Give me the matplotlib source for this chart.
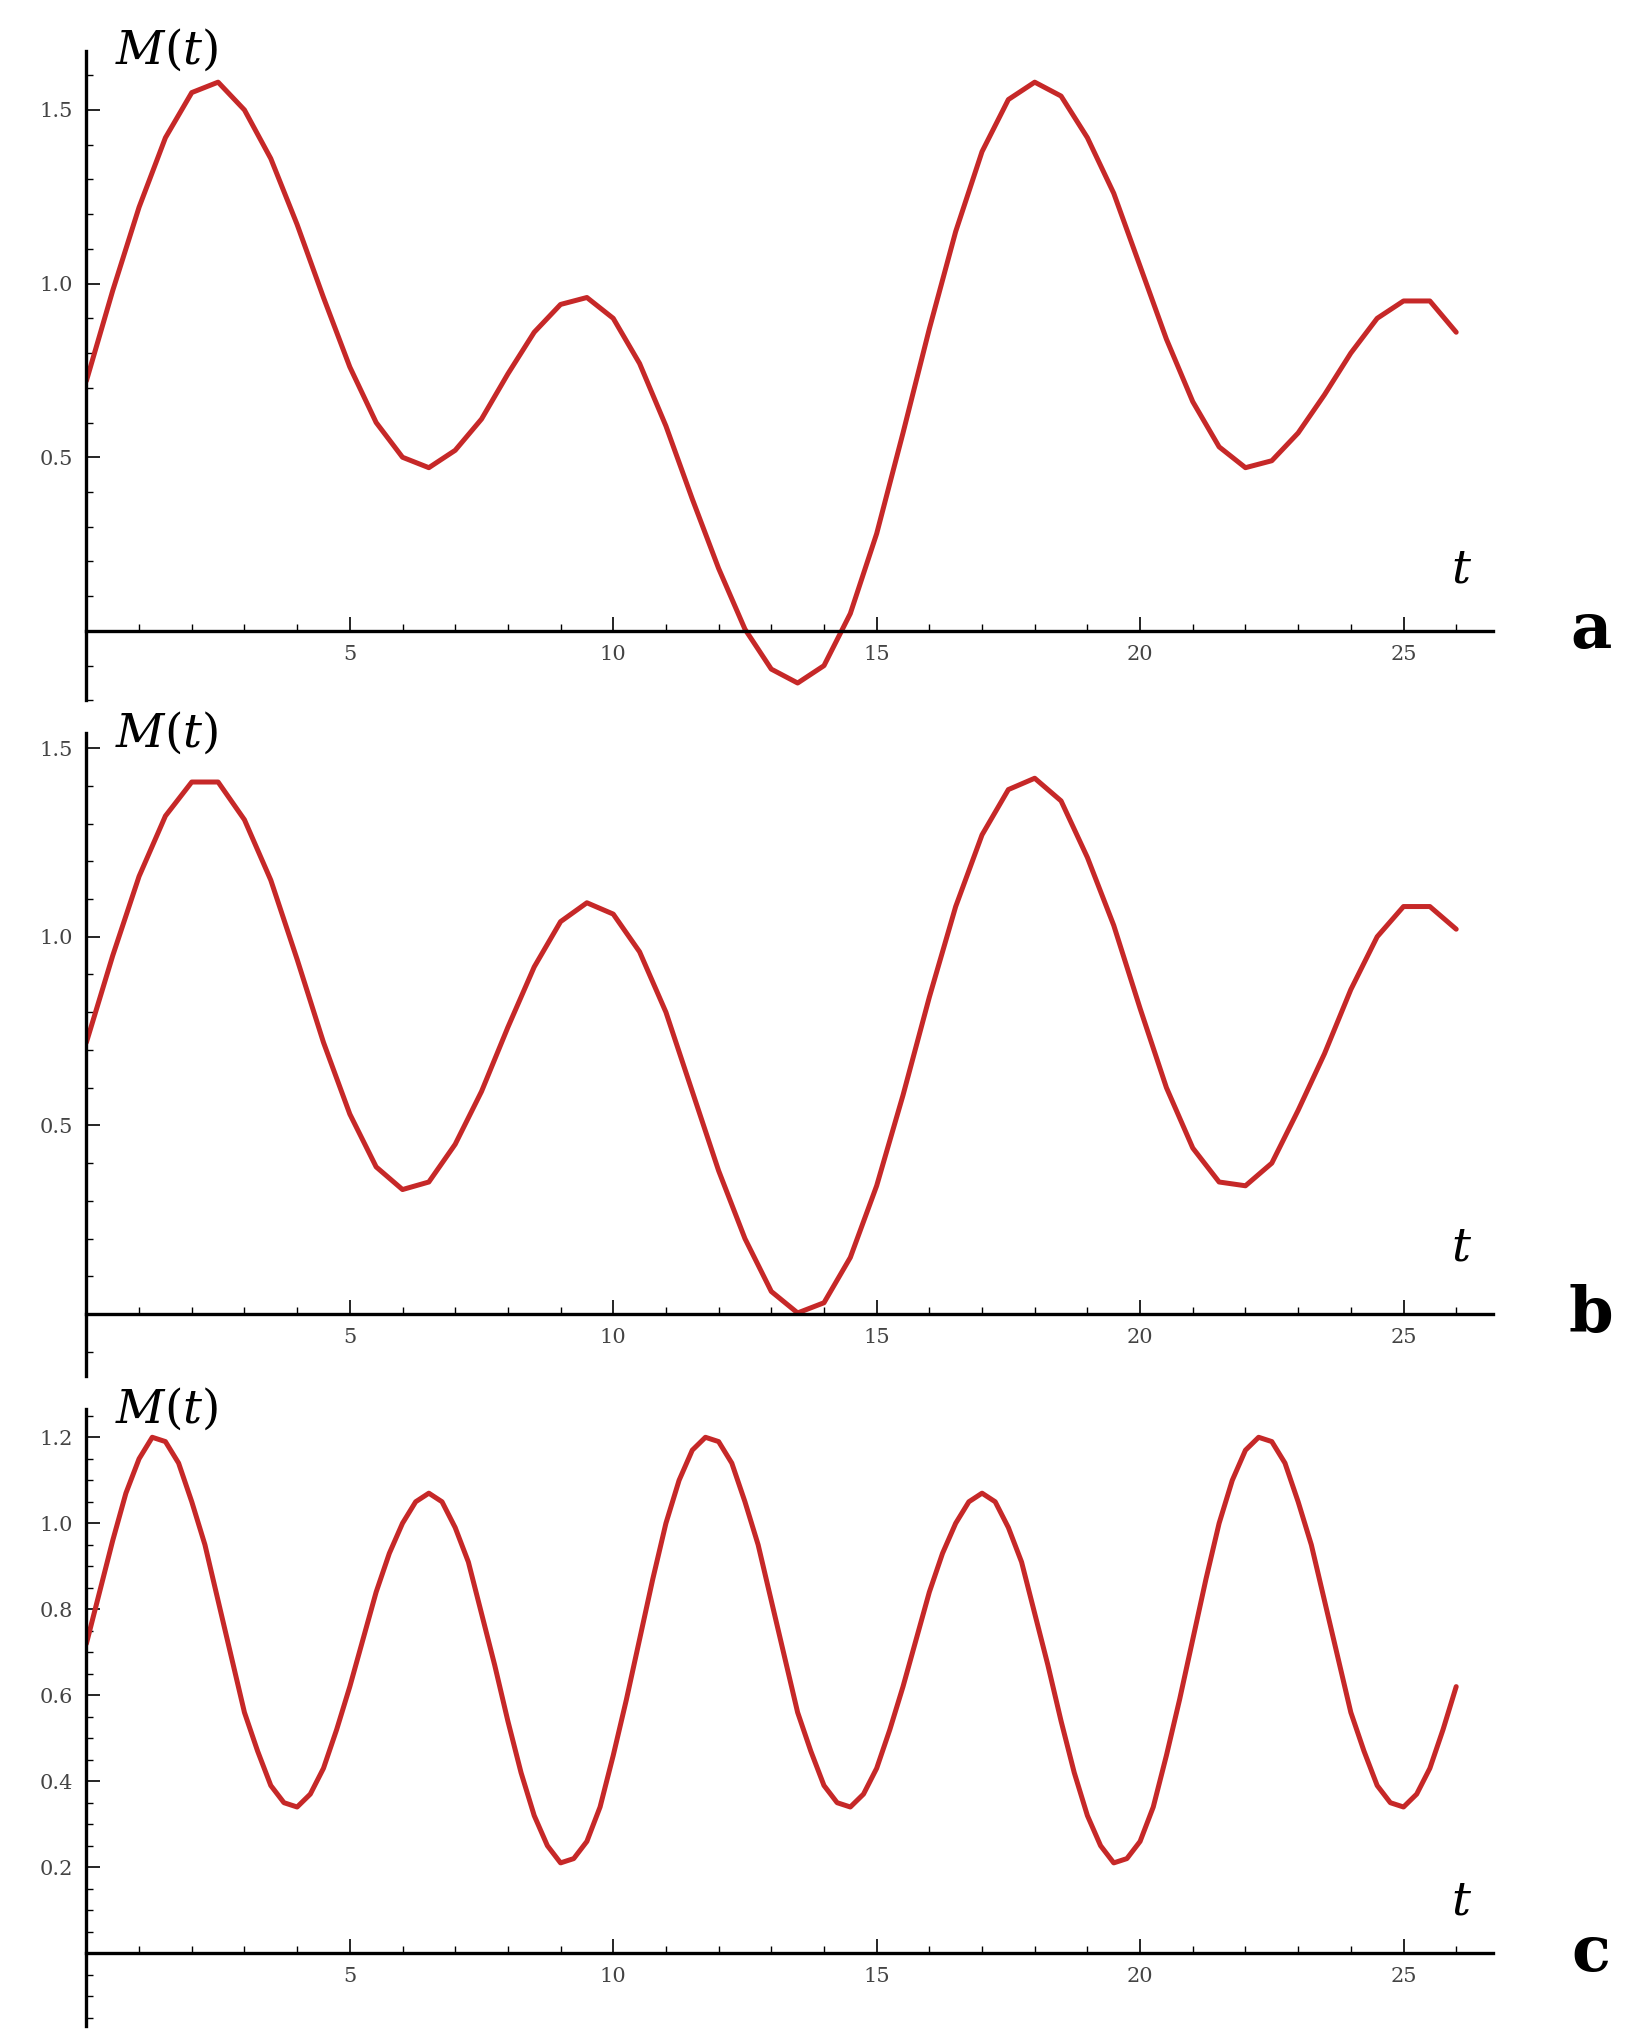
import matplotlib
matplotlib.use("Agg")
import matplotlib.pyplot as plt
import numpy as np
from matplotlib.ticker import MultipleLocator, FixedLocator, FormatStrFormatter

plt.rcParams["mathtext.fontset"] = "dejavuserif"

# M(t), panels a and b every 0.5, panel c every 0.25
T_AB = np.arange(0, 26.01, 0.5)
M_A = [0.72, 0.98, 1.22, 1.42, 1.55, 1.58, 1.50, 1.36, 1.17, 0.96, 0.76, 0.60, 0.50, 0.47,
       0.52, 0.61, 0.74, 0.86, 0.94, 0.96, 0.90, 0.77, 0.59, 0.38, 0.18, 0.005, -0.11, -0.15,
       -0.10, 0.05, 0.28, 0.57, 0.87, 1.15, 1.38, 1.53, 1.58, 1.54, 1.42, 1.26, 1.05, 0.84,
       0.66, 0.53, 0.47, 0.49, 0.57, 0.68, 0.80, 0.90, 0.95, 0.95, 0.86]
M_B = [0.72, 0.95, 1.16, 1.32, 1.41, 1.41, 1.31, 1.15, 0.94, 0.72, 0.53, 0.39, 0.33, 0.35,
       0.45, 0.59, 0.76, 0.92, 1.04, 1.09, 1.06, 0.96, 0.80, 0.59, 0.38, 0.20, 0.06, 0.003,
       0.03, 0.15, 0.34, 0.58, 0.84, 1.08, 1.27, 1.39, 1.42, 1.36, 1.21, 1.03, 0.81, 0.60,
       0.44, 0.35, 0.34, 0.40, 0.54, 0.69, 0.86, 1.00, 1.08, 1.08, 1.02]
T_C = np.arange(0, 26.001, 0.25)
M_C = [0.72, 0.84, 0.96, 1.07, 1.15, 1.20, 1.19, 1.14, 1.05, 0.95, 0.82, 0.69, 0.56, 0.47,
       0.39, 0.35, 0.34, 0.37, 0.43, 0.52, 0.62, 0.73, 0.84, 0.93, 1.00, 1.05, 1.07, 1.05,
       0.99, 0.91, 0.79, 0.67, 0.54, 0.42, 0.32, 0.25, 0.21, 0.22, 0.26, 0.34, 0.46, 0.59,
       0.73, 0.87, 1.00, 1.10, 1.17, 1.20,
       1.19, 1.14, 1.05, 0.95, 0.82, 0.69, 0.56, 0.47, 0.39, 0.35, 0.34, 0.37, 0.43, 0.52,
       0.62, 0.73, 0.84, 0.93, 1.00, 1.05, 1.07, 1.05, 0.99, 0.91, 0.79, 0.67, 0.54, 0.42,
       0.32, 0.25, 0.21, 0.22, 0.26, 0.34, 0.46, 0.59, 0.73, 0.87, 1.00, 1.10, 1.17, 1.20,
       1.19, 1.14, 1.05, 0.95, 0.82, 0.69, 0.56, 0.47, 0.39, 0.35, 0.34, 0.37, 0.43, 0.52, 0.62]

X_TICKS = [5, 10, 15, 20, 25]
PANELS = [
    # letter, t, values, axes rect, ylim, y ticks, y minor step
    ("a", T_AB, M_A, [0.053, 0.656, 0.863, 0.319], (-0.2, 1.67), [0.5, 1.0, 1.5], 0.1),
    ("b", T_AB, M_B, [0.053, 0.324, 0.863, 0.316], (-0.165, 1.54), [0.5, 1.0, 1.5], 0.1),
    ("c", T_C, M_C, [0.053, 0.005, 0.863, 0.303], (-0.169, 1.266),
     [0.2, 0.4, 0.6, 0.8, 1.0, 1.2], 0.05),
]

fig = plt.figure(figsize=(16.3, 20.36), dpi=100)
for letter, t, m, rect, ylim, yticks, yminor in PANELS:
    ax = fig.add_axes(rect)
    ax.plot(t, m, color="#c62828", linewidth=3.6, solid_joinstyle="round",
            solid_capstyle="round")
    ax.set_xlim(0, 26.7)
    ax.set_ylim(*ylim)
    for side in ("top", "right"):
        ax.spines[side].set_visible(False)
    ax.spines["left"].set_position(("data", 0))
    ax.spines["bottom"].set_position(("data", 0))
    for side in ("left", "bottom"):
        ax.spines[side].set_linewidth(2.4)
    ax.xaxis.set_major_locator(FixedLocator(X_TICKS))
    ax.xaxis.set_minor_locator(MultipleLocator(1))
    ax.yaxis.set_major_locator(FixedLocator(yticks))
    ax.yaxis.set_minor_locator(MultipleLocator(yminor))
    ax.yaxis.set_major_formatter(FormatStrFormatter("%.1f"))
    ax.tick_params(which="major", direction="in", length=10, width=1.2,
                   labelsize=15, labelcolor="#444444", pad=10)
    ax.tick_params(which="minor", direction="in", length=5, width=1)
    for lbl in ax.get_xticklabels() + ax.get_yticklabels():
        lbl.set_family("DejaVu Serif")
    ax.text(0.02, 1.0, r"$M(t)$", transform=ax.transAxes, fontsize=34,
            ha="left", va="center")
    ax.text(0.985, 0.2, r"$t$", transform=ax.transAxes, fontsize=34,
            ha="right", va="center")
    fig.text(rect[0] + rect[2] + 0.06, rect[1] + rect[3] * (-ylim[0]) / (ylim[1] - ylim[0]),
             letter, fontsize=46, fontweight="bold", family="DejaVu Serif",
             ha="center", va="center")

fig.savefig("out.png", dpi=100, facecolor="white")
